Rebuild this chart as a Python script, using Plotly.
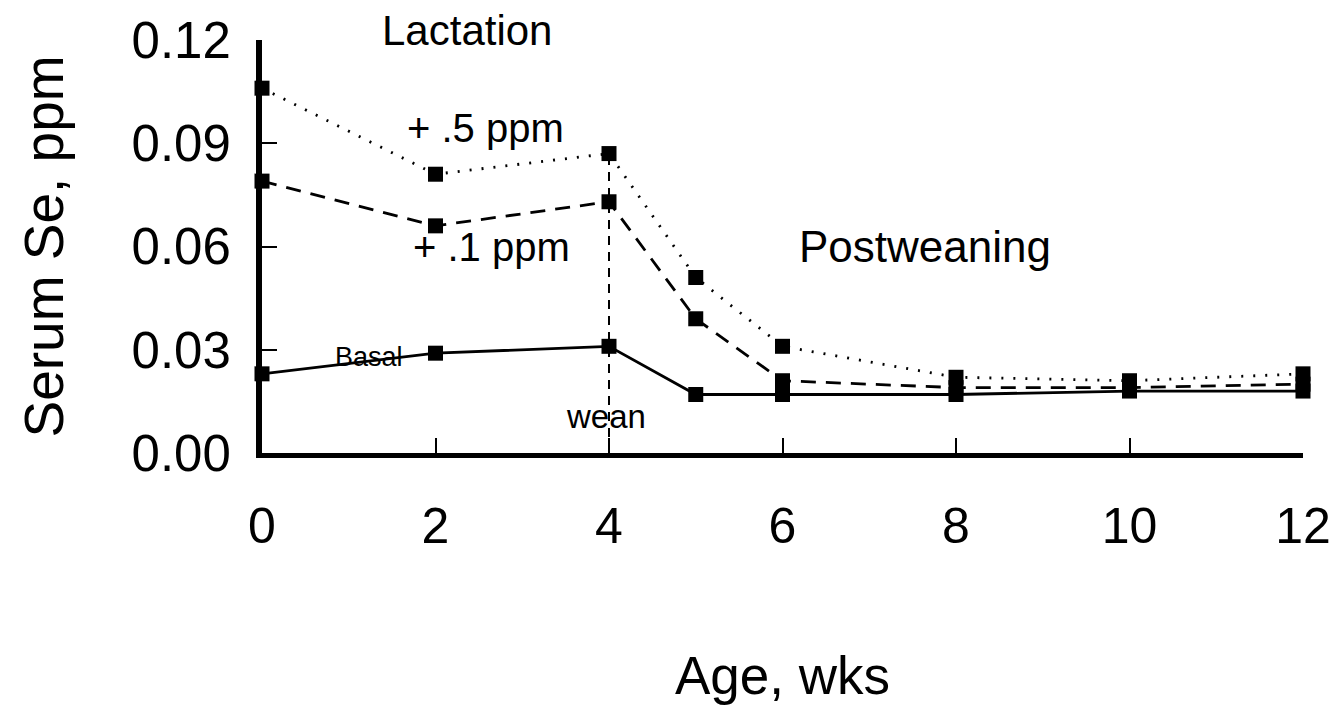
import plotly.graph_objects as go

weeks = [0, 2, 4, 5, 6, 8, 10, 12]
se_05 = [0.106, 0.081, 0.087, 0.051, 0.031, 0.022, 0.021, 0.023]
se_01 = [0.079, 0.066, 0.073, 0.039, 0.021, 0.019, 0.019, 0.020]
basal = [0.023, 0.029, 0.031, 0.017, 0.017, 0.017, 0.018, 0.018]
wean_week = 4

x_ticks = [0, 2, 4, 6, 8, 10, 12]
y_ticks = [0.00, 0.03, 0.06, 0.09, 0.12]
y_tick_text = ["0.00", "0.03", "0.06", "0.09", "0.12"]

FONT = "Arial, Liberation Sans, sans-serif"
mk = dict(symbol="square", size=15, color="black")

fig = go.Figure()
fig.add_trace(go.Scatter(x=[wean_week, wean_week], y=[0, se_05[weeks.index(wean_week)]],
                         mode="lines", line=dict(color="black", width=2, dash="9px,7px"),
                         hoverinfo="skip", cliponaxis=False))
fig.add_trace(go.Scatter(x=weeks, y=se_05, mode="lines+markers", name="+ .5 ppm",
                         line=dict(color="black", width=2.8, dash="2px,10px"), marker=mk, cliponaxis=False))
fig.add_trace(go.Scatter(x=weeks, y=se_01, mode="lines+markers", name="+ .1 ppm",
                         line=dict(color="black", width=2.8, dash="15px,10px"), marker=mk, cliponaxis=False))
fig.add_trace(go.Scatter(x=weeks, y=basal, mode="lines+markers", name="Basal",
                         line=dict(color="black", width=2.8), marker=mk, cliponaxis=False))

def ann(text, x, y, size, yref="y"):
    fig.add_annotation(x=x, y=y, xref="x", yref=yref, text=text, showarrow=False,
                       xanchor="center", yanchor="middle",
                       font=dict(family=FONT, size=size, color="black"))

ann("Lactation", 2.36, 1.022, 42, yref="paper")
ann("+ .5 ppm", 2.58, 0.0944, 40)
ann("+ .1 ppm", 2.64, 0.0598, 40)
ann("Postweaning", 7.64, 0.0601, 44)
ann("Basal", 1.23, 0.0279, 27)
ann("wean", 3.96, 0.0105, 33)

fig.update_layout(
    width=1338, height=710,
    margin=dict(l=254, r=43, t=32, b=265),
    paper_bgcolor="white", plot_bgcolor="white",
    showlegend=False,
    font=dict(family=FONT, color="black"),
    xaxis=dict(range=[0, 12], tickvals=x_ticks, ticktext=[str(v) for v in x_ticks],
               showgrid=False, zeroline=False, showline=True, linecolor="black", linewidth=5,
               ticks="inside", ticklen=15, tickwidth=2, tickcolor="black", automargin=False,
               tickfont=dict(size=50, family=FONT), ticklabelstandoff=25,
               title=dict(text="Age, wks", font=dict(size=53, family=FONT), standoff=105)),
    yaxis=dict(range=[0, 0.12], tickvals=y_ticks, ticktext=y_tick_text,
               showgrid=False, zeroline=False, showline=True, linecolor="black", linewidth=6,
               ticks="inside", ticklen=15, tickwidth=2, tickcolor="black", automargin=False,
               tickfont=dict(size=51, family=FONT), ticklabelstandoff=15,
               title=dict(text="Serum Se, ppm", font=dict(size=55, family=FONT), standoff=52)),
)

fig.write_html("out.html")
